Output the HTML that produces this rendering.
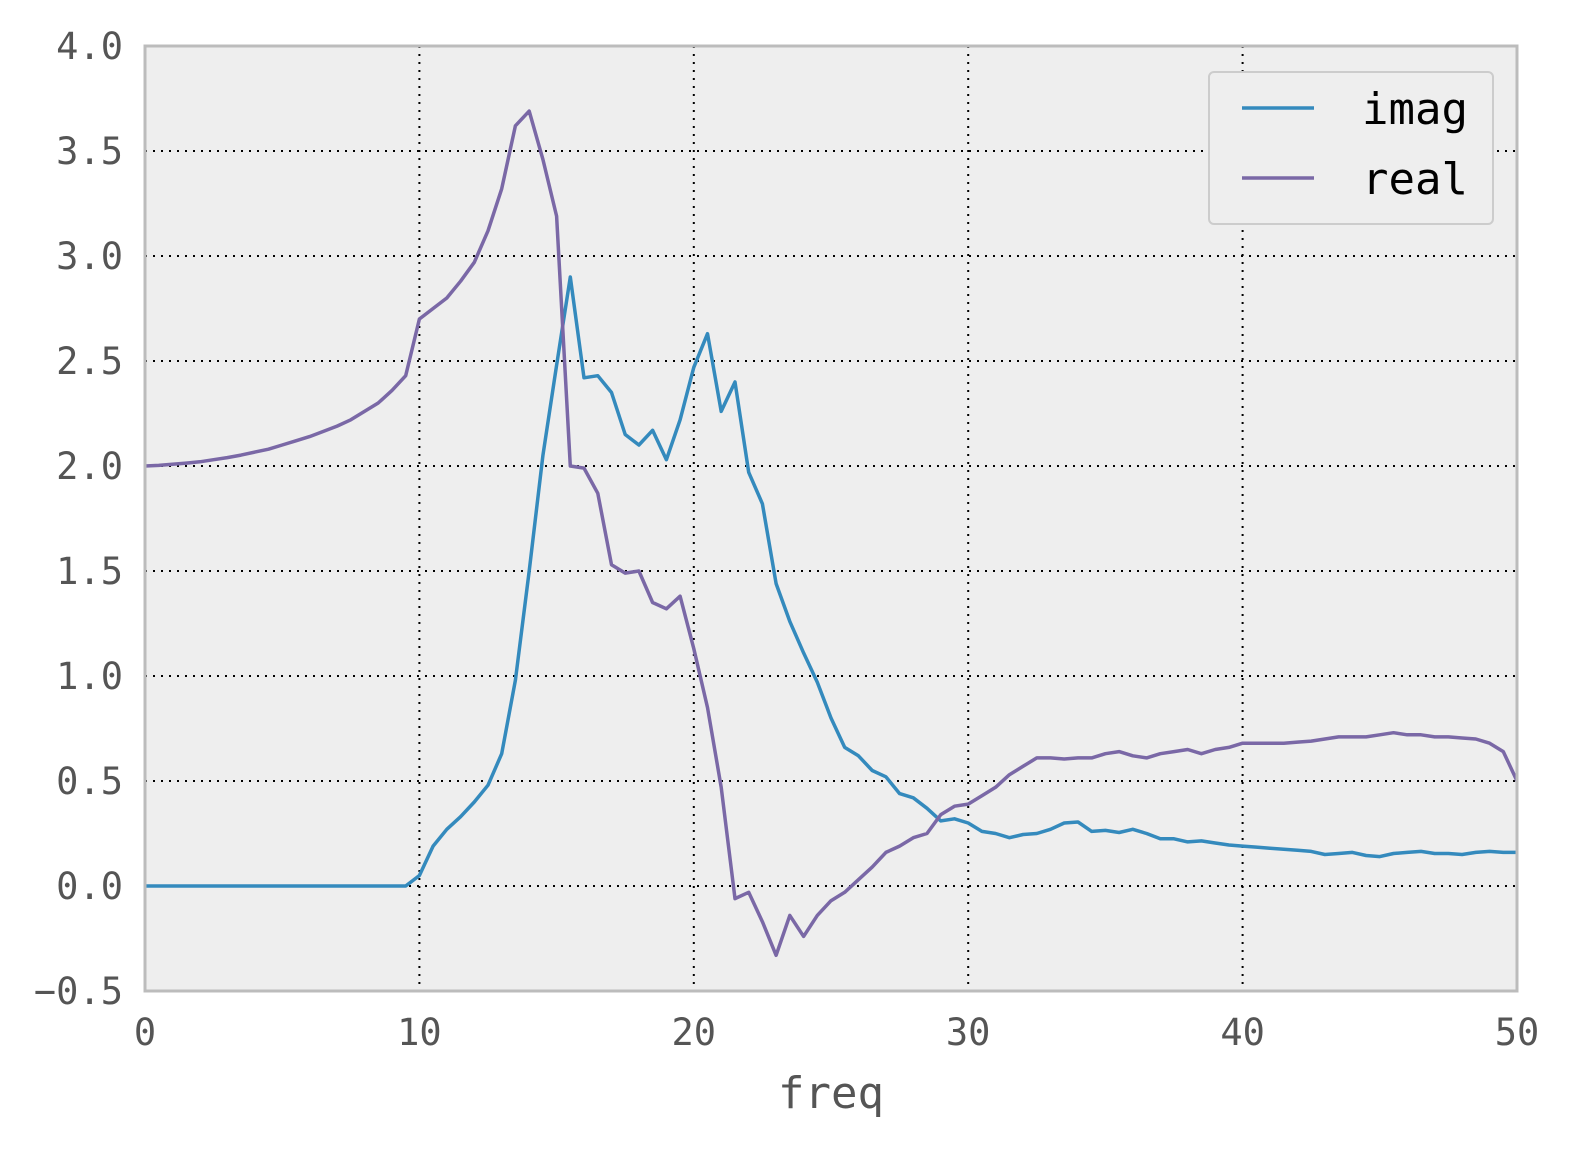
<!DOCTYPE html>
<html><head><meta charset="utf-8"><style>
html,body{margin:0;padding:0;background:#fff;}
svg text{font-family:"DejaVu Sans Mono","Liberation Mono",monospace;}
</style></head><body>
<svg id="chart" width="1593" height="1165" xmlns="http://www.w3.org/2000/svg">
<rect x="145" y="46" width="1372" height="945" fill="#eeeeee"/>
<g id="grid"></g>
<g id="series"></g>
<rect x="145" y="46" width="1372" height="945" fill="none" stroke="#bcbcbc" stroke-width="3"/>
<g id="ticks"></g>
<text x="831" y="1108" font-size="44" fill="#555" text-anchor="middle">freq</text>
<g>
<rect x="1209" y="72" width="284" height="152" rx="5" fill="#eeeeee" stroke="#cccccc" stroke-width="2"/>
<line x1="1242" y1="108" x2="1314" y2="108" stroke="#348abd" stroke-width="3.5"/>
<text x="1362" y="124" font-size="44" fill="#000">imag</text>
<line x1="1242" y1="178" x2="1314" y2="178" stroke="#7a68a6" stroke-width="3.5"/>
<text x="1362" y="194" font-size="44" fill="#000">real</text>
</g>
</svg>
<script>
const xTicks = [0, 10, 20, 30, 40, 50];
const yTicks = [-0.5, 0.0, 0.5, 1.0, 1.5, 2.0, 2.5, 3.0, 3.5, 4.0];
const freqStep = 0.5;
const imagValues = [0,0,0,0,0,0,0,0,0,0, 0,0,0,0,0,0,0,0,0,0,
 0.05,0.19,0.27,0.33,0.40,0.48,0.63,0.98,1.50,2.05,
 2.48,2.90,2.42,2.43,2.35,2.15,2.10,2.17,2.03,2.22,
 2.47,2.63,2.26,2.40,1.97,1.82,1.44,1.26,1.11,0.97,
 0.80,0.66,0.62,0.55,0.52,0.44,0.42,0.37,0.31,0.32,
 0.30,0.26,0.25,0.23,0.245,0.25,0.27,0.30,0.305,0.26,
 0.265,0.255,0.27,0.25,0.225,0.225,0.21,0.215,0.205,0.195,
 0.19,0.185,0.18,0.175,0.17,0.165,0.15,0.155,0.16,0.145,
 0.14,0.155,0.16,0.165,0.155,0.155,0.15,0.16,0.165,0.16,0.16];
const realValues = [2.00,2.003,2.008,2.014,2.02,2.03,2.04,2.052,2.066,2.08,
 2.10,2.12,2.14,2.165,2.19,2.22,2.26,2.30,2.36,2.43,
 2.70,2.75,2.80,2.88,2.97,3.12,3.32,3.62,3.69,3.46,
 3.19,2.00,1.99,1.87,1.53,1.49,1.50,1.35,1.32,1.38,
 1.13,0.85,0.47,-0.06,-0.03,-0.17,-0.33,-0.14,-0.24,-0.14,
 -0.07,-0.03,0.03,0.09,0.16,0.19,0.23,0.25,0.34,0.38,
 0.39,0.43,0.47,0.53,0.57,0.61,0.61,0.605,0.61,0.61,
 0.63,0.64,0.62,0.61,0.63,0.64,0.65,0.63,0.65,0.66,
 0.68,0.68,0.68,0.68,0.685,0.69,0.70,0.71,0.71,0.71,
 0.72,0.73,0.72,0.72,0.71,0.71,0.705,0.70,0.68,0.64,0.50];

const X0=145, X1=1517, Y0=991, Y1=46, XMIN=0, XMAX=50, YMIN=-0.5, YMAX=4.0;
const xs = v => X0 + (v-XMIN)/(XMAX-XMIN)*(X1-X0);
const ys = v => Y0 - (v-YMIN)/(YMAX-YMIN)*(Y0-Y1);
const NS="http://www.w3.org/2000/svg";
const grid=document.getElementById('grid'), ticks=document.getElementById('ticks'), series=document.getElementById('series');
function mk(tag, attrs, parent){const e=document.createElementNS(NS,tag);for(const k in attrs)e.setAttribute(k,attrs[k]);parent.appendChild(e);return e;}

xTicks.forEach(t=>{
  if(t>XMIN && t<XMAX){
    const g=mk('line',{x1:xs(t),x2:xs(t),y1:Y1,y2:Y0,stroke:'#000','stroke-width':2,'stroke-dasharray':'2,6'},grid);
    
    
  }
  const tx=mk('text',{x:xs(t),y:1045,'font-size':37,fill:'#555','text-anchor':'middle'},ticks);
  tx.textContent=String(t);
  
  
});
yTicks.forEach(t=>{
  if(t>YMIN && t<YMAX){
    const g=mk('line',{x1:X0,x2:X1,y1:ys(t),y2:ys(t),stroke:'#000','stroke-width':2,'stroke-dasharray':'2,6'},grid);
    
    
  }
  const tx=mk('text',{x:123,y:ys(t)+13,'font-size':37,fill:'#555','text-anchor':'end'},ticks);
  tx.textContent=(t<0?'\u2212':'')+Math.abs(t).toFixed(1);
  
  
});
function line(vals,color,name){
  const pts=vals.map((v,i)=>xs(i*freqStep).toFixed(1)+','+ys(v).toFixed(1)).join(' ');
  const p=mk('polyline',{points:pts,fill:'none',stroke:color,'stroke-width':3.5,'stroke-linejoin':'round'},series);
  
  
}
line(imagValues,'#348abd','imag-line');
line(realValues,'#7a68a6','real-line');
</script>
</body></html>
